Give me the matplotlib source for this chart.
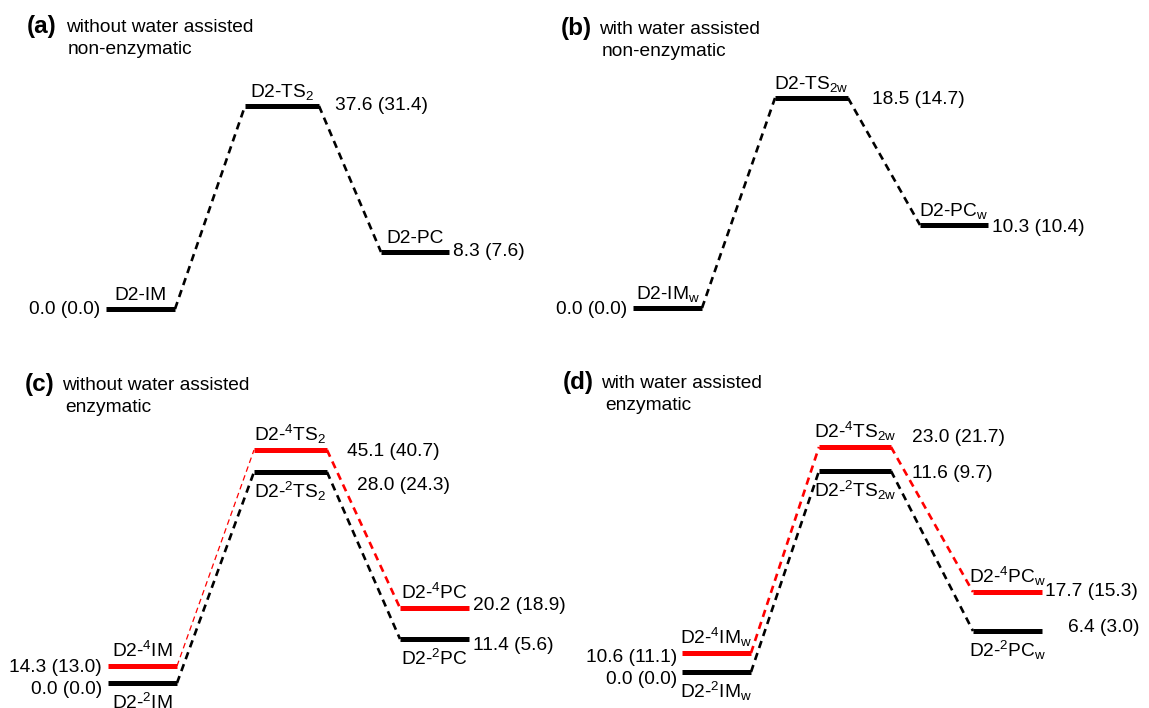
import matplotlib
matplotlib.use('Agg')
import matplotlib.pyplot as plt

plt.rcParams['font.family'] = ['Liberation Sans', 'DejaVu Sans']
plt.rcParams['mathtext.default'] = 'regular'

# relative energies, kcal/mol, as printed: "value (value)"
# heights = drawn level height above the lowest level (schematic)

# (a) without water, non-enzymatic
a_names = ['D2-IM', 'D2-TS$_2$', 'D2-PC']
a_energy = ['0.0 (0.0)', '37.6 (31.4)', '8.3 (7.6)']
a_height = [0, 203, 57]

# (b) with water, non-enzymatic
b_names = ['D2-IM$_w$', 'D2-TS$_{2w}$', 'D2-PC$_w$']
b_energy = ['0.0 (0.0)', '18.5 (14.7)', '10.3 (10.4)']
b_height = [0, 210, 83]

# (c) without water, enzymatic: doublet (black) / quartet (red)
c_names_2 = ['D2-$^2$IM', 'D2-$^2$TS$_2$', 'D2-$^2$PC']
c_energy_2 = ['0.0 (0.0)', '28.0 (24.3)', '11.4 (5.6)']
c_height_2 = [0, 211, 44]
c_names_4 = ['D2-$^4$IM', 'D2-$^4$TS$_2$', 'D2-$^4$PC']
c_energy_4 = ['14.3 (13.0)', '45.1 (40.7)', '20.2 (18.9)']
c_height_4 = [17, 233, 75]

# (d) with water, enzymatic
d_names_2 = ['D2-$^2$IM$_w$', 'D2-$^2$TS$_{2w}$', 'D2-$^2$PC$_w$']
d_energy_2 = ['0.0 (0.0)', '11.6 (9.7)', '6.4 (3.0)']
d_height_2 = [0, 201, 41]
d_names_4 = ['D2-$^4$IM$_w$', 'D2-$^4$TS$_{2w}$', 'D2-$^4$PC$_w$']
d_energy_4 = ['10.6 (11.1)', '23.0 (21.7)', '17.7 (15.3)']
d_height_4 = [19, 225, 80]

FS = 13.8
BAR_LW = 3.6
thick = (1.9, (0, (2.8, 2.0)))
thin = (0.9, (0, (4.5, 3.0)))

panels = [
    dict(tag='(a)', title=['without water assisted', 'non-enzymatic'],
         tpos=(27, 66, 68, 27, 50), base=309, centers=[140.5, 282, 415], widths=[69, 74, 68],
         paths=[dict(h=a_height, names=a_names, energy=a_energy, color='black', above=True,
                     off=[(-6, 0), (16, -1), (4, 0)], conn=[thick, thick])]),
    dict(tag='(b)', title=['with water assisted', 'non-enzymatic'],
         tpos=(561, 599, 602, 29, 52), base=308, centers=[667.5, 811.5, 954], widths=[69, 73, 68],
         paths=[dict(h=b_height, names=b_names, energy=b_energy, color='black', above=True,
                     off=[(-6, 2), (24, 2), (4, 3)], conn=[thick, thick])]),
    dict(tag='(c)', title=['without water assisted', 'enzymatic'],
         tpos=(25, 62, 65, 385, 408), base=683, centers=[142.5, 290.5, 434.5], widths=[69, 73, 69],
         paths=[dict(h=c_height_4, names=c_names_4, energy=c_energy_4, color='red', above=True,
                     off=[(-6, 1), (20, 1), (4, -3)], conn=[thin, thick]),
                dict(h=c_height_2, names=c_names_2, energy=c_energy_2, color='black', above=False,
                     off=[(-6, 6), (30, 13), (4, 7)], conn=[thick, thick])]),
    dict(tag='(d)', title=['with water assisted', 'enzymatic'],
         tpos=(563, 601, 605, 383, 406), base=672, centers=[716.5, 855, 1007.5], widths=[69, 72, 69],
         paths=[dict(h=d_height_4, names=d_names_4, energy=d_energy_4, color='red', above=True,
                     off=[(-5, 5), (21, -10), (3, 0)], conn=[thick, thick]),
                dict(h=d_height_2, names=d_names_2, energy=d_energy_2, color='black', above=False,
                     off=[(-5, 8), (21, 2), (26, -4)], conn=[thick, thick])]),
]

fig = plt.figure(figsize=(11.49, 7.08), dpi=100)
ax = fig.add_axes([0, 0, 1, 1])
ax.set_xlim(0, 1149)
ax.set_ylim(708, 0)
ax.axis('off')

for p in panels:
    tx, x1, x2, y1, y2 = p['tpos']
    ax.text(tx, y1, p['tag'], fontsize=17.5, fontweight='bold', va='center', ha='left')
    ax.text(x1, y1, p['title'][0], fontsize=FS, va='center', ha='left')
    ax.text(x2, y2, p['title'][1], fontsize=FS, va='center', ha='left')

    for path in p['paths']:
        ys = [p['base'] - h for h in path['h']]
        lefts = [c - w / 2 for c, w in zip(p['centers'], p['widths'])]
        rights = [c + w / 2 for c, w in zip(p['centers'], p['widths'])]
        col = path['color']
        # connectors
        for i in range(len(ys) - 1):
            lw, ls = path['conn'][i]
            ax.plot([rights[i], lefts[i + 1]], [ys[i], ys[i + 1]], color=col, lw=lw,
                    linestyle=ls, dash_capstyle='butt', zorder=2)
        # levels
        for i, y in enumerate(ys):
            ax.plot([lefts[i], rights[i]], [y, y], color=col, lw=BAR_LW,
                    solid_capstyle='butt', zorder=3)
            # species name
            if path['above']:
                ax.text(p['centers'][i], y - 9, path['names'][i], fontsize=FS,
                        ha='center', va='baseline')
            else:
                ax.text(p['centers'][i], y + 26, path['names'][i], fontsize=FS,
                        ha='center', va='baseline')
            # energy label
            dx, dy = path['off'][i]
            if i == 0:
                ax.text(lefts[i] + dx, y + dy, path['energy'][i], fontsize=FS,
                        ha='right', va='center')
            else:
                ax.text(rights[i] + dx, y + dy, path['energy'][i], fontsize=FS,
                        ha='left', va='center')

fig.savefig('out.png', dpi=100)
